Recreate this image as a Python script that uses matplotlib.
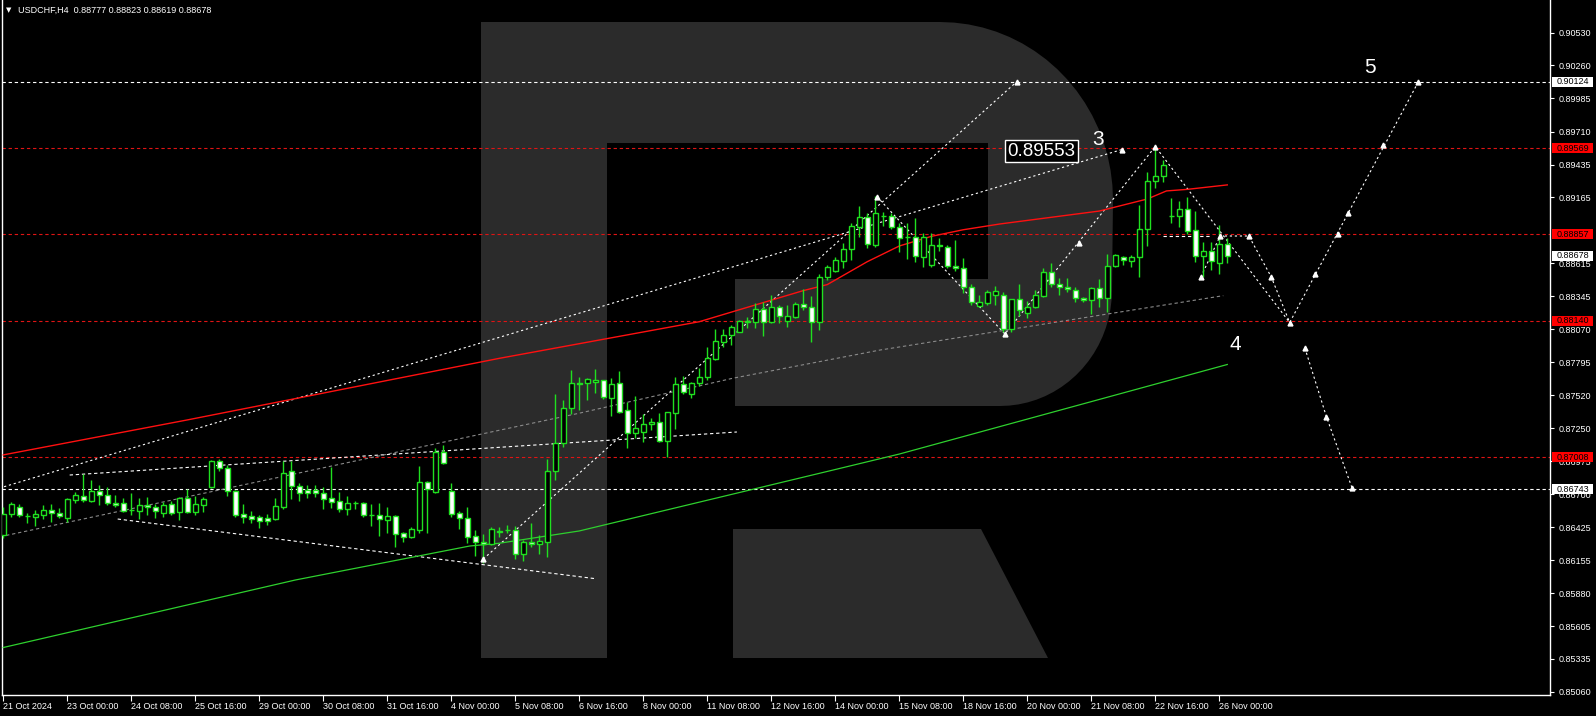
import matplotlib
matplotlib.use("Agg")
import matplotlib.pyplot as plt
from matplotlib.patches import Polygon, Rectangle
import numpy as np

# ---- candles (H4 USDCHF), one entry per bar ----
opens = [0.86363, 0.86534, 0.86598, 0.86523, 0.86515, 0.86531, 0.86567, 0.86543, 0.86507, 0.86653,
         0.86684, 0.86648, 0.86728, 0.86692, 0.86626, 0.86626, 0.86570, 0.86565, 0.86612, 0.86592,
         0.86548, 0.86617, 0.86551, 0.86667, 0.86554, 0.86614, 0.86764, 0.86980, 0.86916, 0.86725,
         0.86534, 0.86523, 0.86509, 0.86504, 0.86496, 0.86592, 0.86891, 0.86769, 0.86736, 0.86736,
         0.86709, 0.86667, 0.86642, 0.86581, 0.86626, 0.86626, 0.86531, 0.86526, 0.86490, 0.86518,
         0.86377, 0.86349, 0.86404, 0.86803, 0.86722, 0.87052, 0.86728, 0.86543, 0.86501, 0.86354,
         0.86307, 0.86288, 0.86388, 0.86404, 0.86402, 0.86202, 0.86307, 0.86288, 0.86302, 0.86897,
         0.87128, 0.87413, 0.87621, 0.87621, 0.87629, 0.87646, 0.87502, 0.87621, 0.87397, 0.87211,
         0.87220, 0.87280, 0.87297, 0.87145, 0.87377, 0.87612, 0.87529, 0.87621, 0.87670, 0.87825,
         0.87966, 0.88019, 0.88049, 0.88141, 0.88130, 0.88240, 0.88127, 0.88251, 0.88141, 0.88174,
         0.88276, 0.88251, 0.88127, 0.88506, 0.88556, 0.88639, 0.88733, 0.88921, 0.88998, 0.88766,
         0.89009, 0.89009, 0.88921, 0.88838, 0.88838, 0.88672, 0.88603, 0.88766, 0.88755, 0.88594,
         0.88575, 0.88417, 0.88265, 0.88290, 0.88351, 0.88354, 0.88072, 0.88318, 0.88202, 0.88257,
         0.88348, 0.88542, 0.88442, 0.88420, 0.88393, 0.88326, 0.88312, 0.88409, 0.88332, 0.88592,
         0.88666, 0.88639, 0.88672, 0.88899, 0.89297, 0.89341, 0.89009, 0.89012, 0.89065, 0.88893,
         0.88680, 0.88719, 0.88617, 0.88777]
highs = [0.86592, 0.86639, 0.86620, 0.86543, 0.86570, 0.86614, 0.86620, 0.86584, 0.86667, 0.86720,
         0.86866, 0.86819, 0.86775, 0.86758, 0.86695, 0.86673, 0.86714, 0.86670, 0.86681, 0.86620,
         0.86637, 0.86642, 0.86681, 0.86744, 0.86686, 0.86681, 0.86985, 0.86991, 0.86944, 0.86736,
         0.86620, 0.86562, 0.86529, 0.86537, 0.86667, 0.86974, 0.86974, 0.86794, 0.86778, 0.86778,
         0.86761, 0.86927, 0.86720, 0.86686, 0.86648, 0.86637, 0.86620, 0.86626, 0.86592, 0.86526,
         0.86388, 0.86426, 0.86935, 0.86808, 0.87082, 0.87110, 0.86794, 0.86565, 0.86592, 0.86404,
         0.86371, 0.86426, 0.86432, 0.86443, 0.86438, 0.86321, 0.86460, 0.86363, 0.86991, 0.87532,
         0.87482, 0.87731, 0.87676, 0.87662, 0.87740, 0.87648, 0.87665, 0.87723, 0.87469, 0.87516,
         0.87366, 0.87330, 0.87372, 0.87380, 0.87676, 0.87682, 0.87634, 0.87745, 0.87919, 0.88072,
         0.88069, 0.88105, 0.88146, 0.88174, 0.88284, 0.88298, 0.88354, 0.88271, 0.88271, 0.88293,
         0.88401, 0.88345, 0.88528, 0.88603, 0.88672, 0.88788, 0.88954, 0.89092, 0.89031, 0.89175,
         0.89045, 0.89031, 0.88954, 0.88954, 0.88990, 0.88865, 0.88865, 0.88824, 0.88769, 0.88810,
         0.88658, 0.88445, 0.88354, 0.88395, 0.88431, 0.88381, 0.88323, 0.88445, 0.88307, 0.88395,
         0.88575, 0.88617, 0.88492, 0.88492, 0.88423, 0.88340, 0.88423, 0.88484, 0.88694, 0.88691,
         0.88677, 0.88686, 0.89101, 0.89372, 0.89569, 0.89474, 0.89156, 0.89134, 0.89170, 0.89051,
         0.88791, 0.88791, 0.88935, 0.88823]
lows = [0.86335, 0.86515, 0.86509, 0.86460, 0.86437, 0.86496, 0.86473, 0.86507, 0.86473, 0.86631,
        0.86639, 0.86637, 0.86612, 0.86609, 0.86592, 0.86556, 0.86529, 0.86498, 0.86529, 0.86507,
        0.86515, 0.86529, 0.86487, 0.86543, 0.86529, 0.86556, 0.86750, 0.86897, 0.86686, 0.86515,
        0.86460, 0.86460, 0.86424, 0.86446, 0.86487, 0.86581, 0.86662, 0.86648, 0.86673, 0.86676,
        0.86579, 0.86590, 0.86556, 0.86531, 0.86576, 0.86515, 0.86437, 0.86354, 0.86377, 0.86266,
        0.86307, 0.86341, 0.86382, 0.86382, 0.86709, 0.86952, 0.86515, 0.86413, 0.86299, 0.86188,
        0.86128, 0.86280, 0.86349, 0.86382, 0.86161, 0.86150, 0.86266, 0.86205, 0.86183, 0.86819,
        0.87095, 0.87366, 0.87399, 0.87482, 0.87538, 0.87493, 0.87352, 0.87372, 0.87087, 0.87164,
        0.87137, 0.87233, 0.87137, 0.87007, 0.87242, 0.87532, 0.87496, 0.87599, 0.87648, 0.87814,
        0.87925, 0.87939, 0.88049, 0.88077, 0.88083, 0.88016, 0.88119, 0.88124, 0.88091, 0.88160,
        0.88229, 0.87961, 0.88063, 0.88478, 0.88547, 0.88575, 0.88644, 0.88832, 0.88741, 0.88755,
        0.88926, 0.88899, 0.88713, 0.88653, 0.88630, 0.88583, 0.88583, 0.88719, 0.88575, 0.88555,
        0.88373, 0.88271, 0.88257, 0.88268, 0.88271, 0.88050, 0.88050, 0.88182, 0.88160, 0.88243,
        0.88340, 0.88423, 0.88354, 0.88381, 0.88299, 0.88299, 0.88196, 0.88257, 0.88216, 0.88583,
        0.88603, 0.88589, 0.88506, 0.88760, 0.89245, 0.89294, 0.88954, 0.88915, 0.88857, 0.88630,
        0.88506, 0.88560, 0.88528, 0.88619]
closes = [0.86534, 0.86617, 0.86526, 0.86520, 0.86537, 0.86570, 0.86543, 0.86523, 0.86659, 0.86692,
          0.86650, 0.86728, 0.86692, 0.86631, 0.86609, 0.86565, 0.86567, 0.86609, 0.86592, 0.86565,
          0.86612, 0.86548, 0.86670, 0.86556, 0.86617, 0.86659, 0.86977, 0.86916, 0.86725, 0.86531,
          0.86515, 0.86493, 0.86476, 0.86482, 0.86603, 0.86874, 0.86769, 0.86709, 0.86714, 0.86709,
          0.86664, 0.86639, 0.86581, 0.86626, 0.86628, 0.86531, 0.86529, 0.86493, 0.86518, 0.86368,
          0.86349, 0.86410, 0.86803, 0.86742, 0.87052, 0.86957, 0.86537, 0.86501, 0.86349, 0.86307,
          0.86291, 0.86410, 0.86393, 0.86401, 0.86202, 0.86307, 0.86288, 0.86310, 0.86897, 0.87129,
          0.87413, 0.87621, 0.87619, 0.87654, 0.87646, 0.87504, 0.87612, 0.87386, 0.87211, 0.87247,
          0.87283, 0.87297, 0.87145, 0.87380, 0.87612, 0.87546, 0.87621, 0.87670, 0.87828, 0.87972,
          0.88019, 0.88085, 0.88141, 0.88130, 0.88240, 0.88130, 0.88251, 0.88179, 0.88179, 0.88276,
          0.88251, 0.88130, 0.88500, 0.88583, 0.88644, 0.88733, 0.88926, 0.88998, 0.88774, 0.89031,
          0.89006, 0.88915, 0.88824, 0.88832, 0.88677, 0.88838, 0.88766, 0.88760, 0.88594, 0.88575,
          0.88417, 0.88293, 0.88293, 0.88376, 0.88384, 0.88072, 0.88318, 0.88227, 0.88257, 0.88351,
          0.88542, 0.88442, 0.88420, 0.88404, 0.88332, 0.88312, 0.88409, 0.88326, 0.88594, 0.88683,
          0.88644, 0.88672, 0.88899, 0.89297, 0.89341, 0.89433, 0.89006, 0.89065, 0.88888, 0.88680,
          0.88719, 0.88639, 0.88774, 0.88678]

# moving averages, sampled (bar, price)
red_ma = [(1, 0.87027), (24, 0.87317), (63, 0.87828), (88, 0.88132), (101, 0.88390), (104, 0.88440),
          (109, 0.88630), (113, 0.88760), (117, 0.88840), (121, 0.88895), (125.6, 0.88943),
          (138, 0.89050), (144, 0.89150), (146.4, 0.89217), (149, 0.89230), (154, 0.89267)]
green_ma = [(1, 0.85429), (37.5, 0.85989), (59.3, 0.86271), (63, 0.86294), (73, 0.86396),
            (104.7, 0.86901), (113, 0.87034), (154, 0.87777)]
grey_ma = [(0.6, 0.86348), (59.3, 0.87179), (73, 0.87373), (92.2, 0.87663), (110.6, 0.87897),
           (153.5, 0.88348)]

# horizontal levels
red_levels = [0.89569, 0.88857, 0.88140, 0.87008]
white_levels = [0.90124, 0.86743]
last_price = 0.88678

# trend / forecast lines (bar, price)
line_a = [(1.1, 0.86763), (140.8, 0.89560)]
line_b = [(61.0, 0.86163), (127.7, 0.90124)]
wedge_top = [(9.3, 0.86860), (92.7, 0.87217)]
wedge_bot = [(15.3, 0.86495), (74.9, 0.86001)]
zigzag = [(110.2, 0.89170), (126.2, 0.88030), (145.0, 0.89585), (161.8, 0.88125), (177.9, 0.90124)]
zig_marks = [(110.2, 0.89170), (126.2, 0.88030), (135.5, 0.88788), (145.0, 0.89585), (161.8, 0.88125),
             (165.0, 0.88525), (167.8, 0.88863), (169.1, 0.89032), (173.5, 0.89597), (177.9, 0.90124)]
sub_path = [(150.7, 0.88503), (153.1, 0.88843), (156.7, 0.88843), (159.5, 0.88503), (161.8, 0.88125)]
alt_path = [(163.7, 0.87914), (166.4, 0.87342), (169.6, 0.86752)]
short_level = [(146.0, 0.88843), (152.0, 0.88843)]

price_ticks = [0.90530, 0.90260, 0.89985, 0.89710, 0.89435, 0.89165, 0.88615, 0.88345,
               0.88070, 0.87795, 0.87520, 0.87250, 0.86975, 0.86700, 0.86425, 0.86155, 0.85880,
               0.85605, 0.85335, 0.85060]
date_labels = ["21 Oct 2024", "23 Oct 00:00", "24 Oct 08:00", "25 Oct 16:00", "29 Oct 00:00",
               "30 Oct 08:00", "31 Oct 16:00", "4 Nov 00:00", "5 Nov 08:00", "6 Nov 16:00",
               "8 Nov 00:00", "11 Nov 08:00", "12 Nov 16:00", "14 Nov 00:00", "15 Nov 08:00",
               "18 Nov 16:00", "20 Nov 00:00", "21 Nov 08:00", "22 Nov 16:00", "26 Nov 00:00"]

W, H = 1596, 716
CANDLE = '#1fe01f'
plt.rcParams['font.family'] = ['Liberation Sans', 'DejaVu Sans']

fig = plt.figure(figsize=(W / 100, H / 100), dpi=100, facecolor='black')
ax = fig.add_axes([2 / W, 21 / H, 1548 / W, 695 / H])
ax.set_facecolor('black')
ax.set_xlim(0.84, 194.34)
ax.set_ylim(0.85035, 0.90801)


def fpx(pts):
    # figure pixels (origin top-left) -> figure fraction
    return [(x / W, 1 - y / H) for x, y in pts]


# watermark logo, behind everything in the axes
logo_col = '#2b2b2b'
stem = [(481, 22), (607, 22), (607, 658), (481, 658)]
t = np.linspace(0, np.pi / 2, 20)
arc1 = [(940 + 173 * np.sin(a), 200 - 178 * np.cos(a)) for a in t]
arc2 = [(1000 + 112 * np.cos(a), 290 + 116 * np.sin(a)) for a in t]
bowl = [(607, 22)] + arc1 + arc2 + [(735, 406), (735, 279), (988, 279), (988, 143), (607, 143)]
leg = [(733, 529), (981, 529), (1048, 658), (733, 658)]
for shp in (stem, bowl, leg):
    ax.add_patch(Polygon(fpx(shp), closed=True, transform=fig.transFigure,
                         facecolor=logo_col, edgecolor='none', zorder=0.5))

# levels
for p in red_levels:
    ax.axhline(p, color='#e01414', lw=0.8, ls=(0, (3, 2.5)), zorder=2)
for p in white_levels:
    ax.axhline(p, color='white', lw=0.8, ls=(0, (3, 2.5)), zorder=2)


def draw(pts, color='white', ls=(0, (2, 2.5)), lw=0.8, z=2):
    xs, ys = zip(*pts)
    ax.plot(xs, ys, color=color, lw=lw, ls=ls, zorder=z)


draw(line_a)
draw(line_b)
draw(wedge_top, ls=(0, (3, 2.5)))
draw(wedge_bot, ls=(0, (3, 2.5)))
draw(zigzag)
draw(sub_path)
draw(alt_path)
draw(short_level, ls=(0, (3, 2.5)))
draw(grey_ma, color='#8a8a8a', ls=(0, (3, 2.5)))
draw(red_ma, color='#ff1010', ls='-', lw=1.0, z=3)
draw(green_ma, color='#2ed02e', ls='-', lw=0.9, z=3)

mk = zig_marks + sub_path[:-1] + alt_path + [line_a[1], line_b[1], line_b[0]]
mx, my = zip(*mk)
ax.plot(mx, my, ls='none', marker='^', ms=3.5, color='white', zorder=6)

# candles
n = len(opens)
bars = np.arange(1, n + 1)
ax.vlines(bars, lows, highs, color=CANDLE, lw=1.0, zorder=4)
for i in range(n):
    o, c = opens[i], closes[i]
    bottom = min(o, c)
    h = max(abs(c - o), 0.00003)
    fc = 'black' if c >= o else 'white'
    ax.bar(bars[i], h, bottom=bottom, width=0.62, color=fc, edgecolor=CANDLE, lw=1.0, zorder=5)

# annotations
ax.text(130.8, 0.89548, "0.89553", color='white', fontsize=13.5, ha='center', va='center', zorder=7,
        bbox=dict(boxstyle='square,pad=0.12', fc='black', ec='white', lw=1.0))
for txt, xi, pr in [("3", 137.8, 0.89640), ("5", 171.8, 0.90237), ("4", 155.0, 0.87947)]:
    ax.text(xi, pr, txt, color='white', fontsize=15, ha='center', va='center', zorder=7)

# axes styling
for s in ('left', 'bottom', 'right'):
    ax.spines[s].set_color('white')
    ax.spines[s].set_linewidth(1.0)
ax.spines['top'].set_visible(False)
ax.yaxis.tick_right()
ax.set_yticks(price_ticks)
ax.set_yticklabels(["%.5f" % p for p in price_ticks])
ax.tick_params(axis='y', colors='white', labelsize=6.5, length=3, width=0.8, pad=3)
ax.set_xticks(bars[::8])
ax.set_xticklabels(date_labels, ha='left')
ax.tick_params(axis='x', colors='white', labelsize=6.5, length=4, width=0.8, pad=1)

# price boxes on the axis (cover the tick labels beneath)
ytr = ax.get_yaxis_transform()
box_w = 41 / 1548
box_h = 10 * (0.90801 - 0.85035) / 695
for p, fc in [(q, '#ff0000') for q in red_levels] + [(q, 'white') for q in white_levels + [last_price]]:
    ax.add_patch(Rectangle((1.0013, p - box_h / 2), box_w, box_h, transform=ytr, facecolor=fc,
                           edgecolor='none', zorder=8, clip_on=False))
    ax.text(1.0013 + box_w / 2, p, "%.5f" % p, transform=ytr, color='black', fontsize=6.5,
            ha='center', va='center', zorder=9, clip_on=False)

# header
fig.text(6 / W, 1 - 10 / H, "\u25bc", color='white', fontsize=5, va='center', family='DejaVu Sans')
fig.text(18 / W, 1 - 10 / H, "USDCHF,H4  0.88777 0.88823 0.88619 0.88678", color='white',
         fontsize=6.5, va='center')

fig.savefig("out.png", dpi=100, facecolor='black')
